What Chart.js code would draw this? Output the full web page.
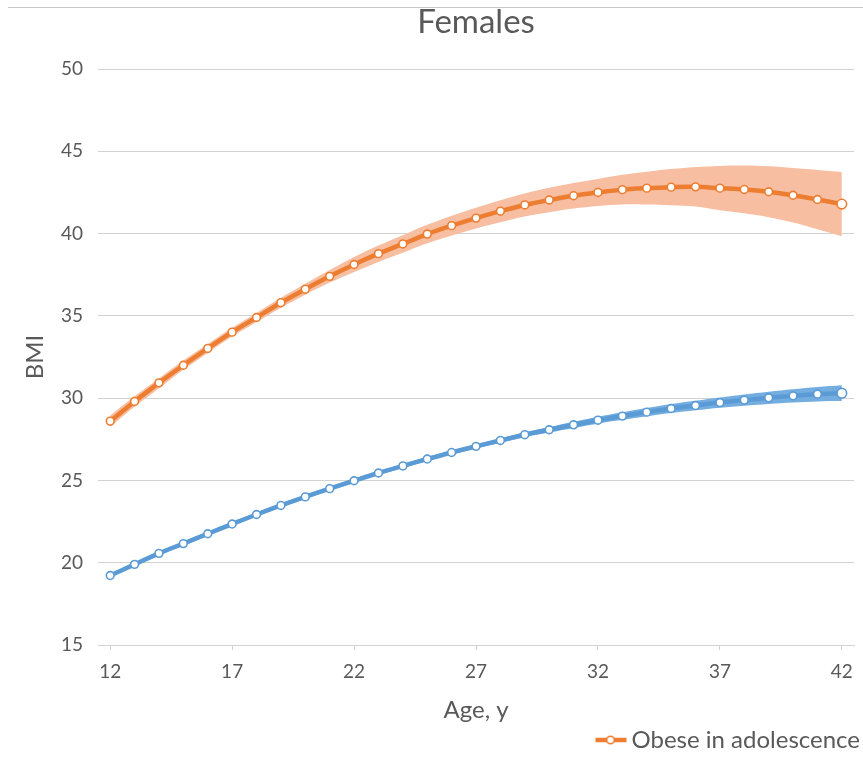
<!DOCTYPE html>
<html><head><meta charset="utf-8">
<script src="https://cdn.jsdelivr.net/npm/chart.js@4.4.0/dist/chart.umd.min.js"></script>
<style>html,body{margin:0;padding:0;background:#fff;}</style>
</head><body>
<canvas id="c" width="863" height="767"></canvas>
<script>
// ---- data ----
const ages = [12,13,14,15,16,17,18,19,20,21,22,23,24,25,26,27,28,29,30,31,32,33,34,35,36,37,38,39,40,41,42];
const xTickLabels = ['12','17','22','27','32','37','42'];
const yTicks = [15,20,25,30,35,40,45,50];
const chartTitle = 'Females';
const xTitle = 'Age, y';
const yTitle = 'BMI';
const obeseName = 'Obese in adolescence';
const nonObeseName = 'Not obese in adolescence';

const obese = [28.6,29.8,30.93,32.0,33.02,34.01,34.9,35.8,36.62,37.4,38.12,38.78,39.37,39.97,40.48,40.94,41.36,41.74,42.04,42.3,42.5,42.67,42.76,42.82,42.84,42.76,42.68,42.54,42.33,42.07,41.79];
const obeseUpper = [28.95,30.12,31.2,32.28,33.29,34.28,35.18,36.1,36.95,37.78,38.57,39.27,39.9,40.53,41.08,41.57,42.03,42.44,42.78,43.08,43.32,43.57,43.76,43.92,44.04,44.11,44.13,44.09,43.98,43.87,43.74];
const obeseLower = [28.25,29.48,30.6,31.72,32.75,33.74,34.62,35.5,36.29,37.02,37.67,38.28,38.84,39.41,39.88,40.31,40.69,41.04,41.3,41.52,41.68,41.77,41.76,41.72,41.64,41.41,41.23,40.99,40.68,40.27,39.84];

const nonObese = [19.22,19.9,20.57,21.16,21.76,22.35,22.93,23.48,24.0,24.5,24.98,25.45,25.88,26.3,26.7,27.07,27.43,27.78,28.08,28.38,28.66,28.91,29.15,29.37,29.55,29.73,29.88,30.02,30.14,30.24,30.3];
const nonObeseUpper = [19.34,20.02,20.69,21.28,21.88,22.47,23.05,23.6,24.12,24.62,25.1,25.57,26.0,26.42,26.82,27.2,27.57,27.93,28.25,28.57,28.87,29.14,29.4,29.64,29.84,30.04,30.22,30.39,30.54,30.68,30.78];
const nonObeseLower = [19.1,19.78,20.45,21.04,21.64,22.23,22.81,23.36,23.88,24.38,24.86,25.33,25.76,26.18,26.58,26.94,27.29,27.63,27.91,28.19,28.45,28.68,28.9,29.1,29.26,29.42,29.54,29.65,29.74,29.8,29.82];

// ---- styles ----
const ORANGE = '#ED7D31', ORANGE_BAND = '#F7BEA2';
const BLUE = '#5B9BD5', BLUE_BAND = '#74ADDF';
const TEXT = '#595959', GRID = '#d2d2d2';
const FONT = 'Lato, Carlito, Calibri, sans-serif';

function legendIcon(){
  const c = document.createElement('canvas');
  c.width = 50; c.height = 14;
  const g = c.getContext('2d');
  g.strokeStyle = ORANGE; g.lineWidth = 4.5;
  g.beginPath(); g.moveTo(17,7); g.lineTo(48,7); g.stroke();
  g.fillStyle = '#fff'; g.lineWidth = 1.6;
  g.beginPath(); g.arc(32,7,3.8,0,Math.PI*2); g.fill(); g.stroke();
  return c;
}
const icon = legendIcon();

const lastIdx = ages.length - 1;
const ptRadius = ctx => ctx.dataIndex === lastIdx ? 4.8 : 3.9;

const topLine = {
  id: 'topLine',
  beforeDraw(chart){
    const g = chart.ctx; g.save();
    g.strokeStyle = '#c6c6c6'; g.lineWidth = 1;
    g.beginPath(); g.moveTo(8, 7.5); g.lineTo(863, 7.5); g.stroke();
    g.restore();
  }
};

new Chart(document.getElementById('c'), {
  type: 'line',
  data: {
    labels: ages.map(String),
    datasets: [
      { label: obeseName, data: obese, borderColor: ORANGE, borderWidth: 4.5, backgroundColor: '#fff',
        pointBackgroundColor: '#fff', pointBorderColor: ORANGE, pointBorderWidth: 1.6, pointRadius: ptRadius,
        tension: 0.35, fill: false, order: 0 },
      { label: nonObeseName, data: nonObese, borderColor: BLUE, borderWidth: 4.5, backgroundColor: '#fff',
        pointBackgroundColor: '#fff', pointBorderColor: BLUE, pointBorderWidth: 1.6, pointRadius: ptRadius,
        tension: 0.35, fill: false, order: 1 },
      { label: 'obese upper', data: obeseUpper, borderWidth: 0, borderColor: 'transparent', pointRadius: 0,
        tension: 0.35, fill: '+1', backgroundColor: ORANGE_BAND, order: 2 },
      { label: 'obese lower', data: obeseLower, borderWidth: 0, borderColor: 'transparent', pointRadius: 0,
        tension: 0.35, fill: false, order: 3 },
      { label: 'non upper', data: nonObeseUpper, borderWidth: 0, borderColor: 'transparent', pointRadius: 0,
        tension: 0.35, fill: '+1', backgroundColor: BLUE_BAND, order: 4 },
      { label: 'non lower', data: nonObeseLower, borderWidth: 0, borderColor: 'transparent', pointRadius: 0,
        tension: 0.35, fill: false, order: 5 }
    ]
  },
  options: {
    responsive: false,
    animation: false,
    events: [],
    layout: { padding: { left: 0, right: 0, top: 0, bottom: 5 } },
    plugins: {
      tooltip: { enabled: false },
      title: {
        display: true, text: chartTitle, color: TEXT, fullSize: false,
        font: { family: FONT, size: 33, weight: 'normal' },
        padding: { top: 3, bottom: 26.4 }
      },
      legend: {
        display: true, position: 'bottom', align: 'end',
        labels: {
          usePointStyle: true, pointStyleWidth: 32, color: TEXT, padding: 3,
          font: { family: FONT, size: 24 },
          generateLabels: () => [{ text: obeseName, pointStyle: icon, fillStyle: 'transparent',
            strokeStyle: 'transparent', lineWidth: 0, hidden: false, datasetIndex: 0, fontColor: TEXT }]
        }
      }
    },
    scales: {
      x: {
        type: 'category', offset: true,
        grid: { display: true, drawOnChartArea: false, drawTicks: true, tickLength: 5, color: GRID, offset: false },
        border: { display: true, color: GRID, width: 1 },
        ticks: {
          autoSkip: false, maxRotation: 0, color: TEXT, padding: 10,
          font: { family: FONT, size: 19 },
          callback: function(v, i){ const l = this.getLabelForValue(v); return xTickLabels.includes(l) ? l : null; }
        },
        title: { display: true, text: xTitle, color: TEXT, font: { family: FONT, size: 24 }, padding: { top: 4, bottom: 0 } },
        afterFit: s => { s.height = 80; }
      },
      y: {
        min: 15, max: 50,
        afterBuildTicks: s => { s.ticks = yTicks.map(v => ({ value: v })); },
        grid: { color: GRID, lineWidth: 1, drawTicks: false },
        border: { display: false },
        ticks: { color: TEXT, padding: 15, font: { family: FONT, size: 19 } },
        title: { display: true, text: yTitle, color: TEXT, font: { family: FONT, size: 24 }, padding: { top: 21, bottom: 0 } },
        afterFit: s => { s.width = 98; }
      },
      yRightSpace: {
        position: 'right', display: true, min: 15, max: 50,
        grid: { display: false, drawTicks: false }, border: { display: false },
        ticks: { display: false }, title: { display: false },
        afterFit: s => { s.width = 5; }
      }
    }
  },
  plugins: [topLine]
});
</script>
</body></html>
